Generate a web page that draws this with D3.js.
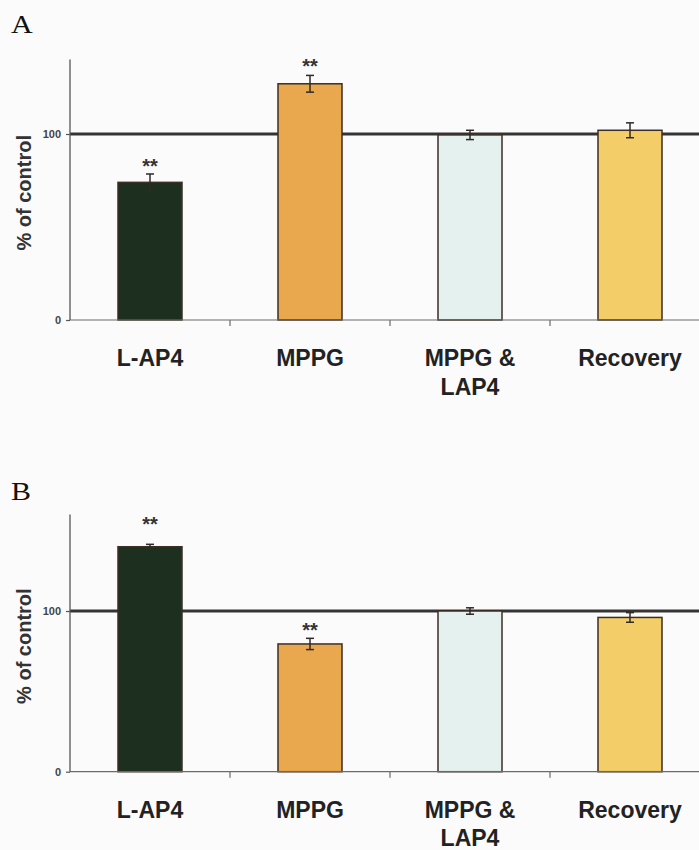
<!DOCTYPE html>
<html>
<head>
<meta charset="utf-8">
<script src="https://cdn.jsdelivr.net/npm/d3@7"></script>
<style>
  html, body { margin: 0; padding: 0; background: #fbfbfb; }
  svg { display: block; }
</style>
</head>
<body>
<svg id="chart" width="699" height="850"></svg>
<script>
// Categories shared by both panels
const categories = ["L-AP4", "MPPG", "MPPG & LAP4", "Recovery"];
const categoryLines = [["L-AP4"], ["MPPG"], ["MPPG &", "LAP4"], ["Recovery"]];
const barColors = ["#1d3020", "#eaa84e", "#e5f1ee", "#f3ce68"];

// Panel A: mean % of control and error
const valuesA = [74, 127, 99.5, 102];
const errorsA = [4.5, 4.5, 2.5, 4];
const starsA = ["**", "**", "", ""];

// Panel B: mean % of control and error
const valuesB = [140, 79.5, 100, 96];
const errorsB = [1.5, 3.5, 2, 3];
const starsB = ["**", "**", "", ""];

// Axis ticks and reference level
const yTicks = [0, 100];
const controlLevel = 100;

const svg = d3.select("#chart");

function drawPanel(opts) {
  const { letter, letterY, values, errors, stars, yMax, yBottom, yTop, starGap } = opts;
  const g = svg.append("g");

  const x = d3.scaleBand()
    .domain(categories)
    .range([70, 710])
    .paddingInner(0.6)
    .paddingOuter(0.3);
  const step = x.step();
  const y = d3.scaleLinear().domain([0, yMax]).range([yBottom, yTop]);

  // Panel letter
  svg.append("text")
    .attr("transform", `translate(11,${letterY}) scale(1.2,1)`)
    .attr("font-family", "'Liberation Serif', 'Times New Roman', serif")
    .attr("font-size", 25)
    .attr("fill", "#111")
    .text(letter);

  // Control reference line (behind bars)
  g.append("line")
    .attr("x1", 70).attr("x2", 710)
    .attr("y1", y(controlLevel)).attr("y2", y(controlLevel))
    .attr("stroke", "#343434").attr("stroke-width", 3);

  // Bars
  g.selectAll("rect.bar").data(categories).join("rect")
    .attr("class", "bar")
    .attr("x", d => x(d))
    .attr("width", x.bandwidth())
    .attr("y", (d, i) => y(values[i]))
    .attr("height", (d, i) => y(0) - y(values[i]))
    .attr("fill", (d, i) => barColors[i])
    .attr("stroke", "#3d2e24")
    .attr("stroke-width", 1.5);

  // Error bars
  const capW = 8;
  const eb = g.selectAll("g.err").data(categories).join("g").attr("class", "err");
  eb.append("line")
    .attr("x1", d => x(d) + x.bandwidth() / 2)
    .attr("x2", d => x(d) + x.bandwidth() / 2)
    .attr("y1", (d, i) => y(values[i] + errors[i]))
    .attr("y2", (d, i) => y(values[i] - errors[i]));
  eb.append("line")
    .attr("x1", d => x(d) + x.bandwidth() / 2 - capW / 2)
    .attr("x2", d => x(d) + x.bandwidth() / 2 + capW / 2)
    .attr("y1", (d, i) => y(values[i] + errors[i]))
    .attr("y2", (d, i) => y(values[i] + errors[i]));
  eb.append("line")
    .attr("x1", d => x(d) + x.bandwidth() / 2 - capW / 2)
    .attr("x2", d => x(d) + x.bandwidth() / 2 + capW / 2)
    .attr("y1", (d, i) => y(values[i] - errors[i]))
    .attr("y2", (d, i) => y(values[i] - errors[i]));
  eb.selectAll("line").attr("stroke", "#2e2a28").attr("stroke-width", 1.5);

  // Significance stars
  g.selectAll("text.star").data(categories).join("text")
    .attr("class", "star")
    .attr("x", d => x(d) + x.bandwidth() / 2)
    .attr("y", (d, i) => y(values[i] + errors[i]) - starGap[i] + 11)
    .attr("text-anchor", "middle")
    .attr("font-family", "'Liberation Sans', Arial, sans-serif")
    .attr("font-weight", "bold")
    .attr("font-size", 20)
    .attr("fill", "#333")
    .text((d, i) => stars[i]);

  // X axis line and category ticks
  g.append("line")
    .attr("x1", 70).attr("x2", 710)
    .attr("y1", y(0)).attr("y2", y(0))
    .attr("stroke", "#6a6a6a").attr("stroke-width", 1.2);
  g.selectAll("line.xtick").data(categories.slice(1)).join("line")
    .attr("class", "xtick")
    .attr("x1", d => x(d) - (step - x.bandwidth()) / 2)
    .attr("x2", d => x(d) - (step - x.bandwidth()) / 2)
    .attr("y1", y(0)).attr("y2", y(0) + 6)
    .attr("stroke", "#6a6a6a").attr("stroke-width", 1.2);

  // Y axis
  const yAxis = d3.axisLeft(y).tickValues(yTicks).tickSize(4).tickPadding(5);
  const ya = g.append("g").attr("transform", "translate(70,0)").call(yAxis);
  ya.select(".domain")
    .attr("d", `M0,${y(0)}V${y(yMax)}`)
    .attr("stroke", "#555").attr("stroke-width", 1.3);
  ya.selectAll(".tick line").attr("stroke", "#555").attr("stroke-width", 1.2);
  ya.selectAll(".tick text")
    .attr("font-family", "'Liberation Sans', Arial, sans-serif")
    .attr("font-weight", "bold")
    .attr("font-size", 11)
    .attr("fill", "#444");

  // Y axis title
  svg.append("text")
    .attr("transform", `translate(31,${(y(0) + y(yMax)) / 2 + 3}) rotate(-90)`)
    .attr("text-anchor", "middle")
    .attr("font-family", "'Liberation Sans', Arial, sans-serif")
    .attr("font-weight", "bold")
    .attr("font-size", 20)
    .attr("fill", "#333")
    .text("% of control");

  // Category labels
  const lbl = g.selectAll("text.cat").data(categories).join("text")
    .attr("class", "cat")
    .attr("text-anchor", "middle")
    .attr("font-family", "'Liberation Sans', Arial, sans-serif")
    .attr("font-weight", "bold")
    .attr("font-size", 23)
    .attr("fill", "#222");
  lbl.each(function(d, i) {
    const t = d3.select(this);
    categoryLines[i].forEach((line, k) => {
      t.append("tspan")
        .attr("x", x(d) + x.bandwidth() / 2)
        .attr("y", y(0) + 46 + k * 28.5)
        .text(line);
    });
  });
}

drawPanel({
  letter: "A", letterY: 33,
  values: valuesA, errors: errorsA, stars: starsA,
  yMax: 140, yBottom: 320, yTop: 59.6,
  starGap: [12, 13, 12, 12]
});

drawPanel({
  letter: "B", letterY: 500,
  values: valuesB, errors: errorsB, stars: starsB,
  yMax: 160, yBottom: 771.7, yTop: 514.6,
  starGap: [24, 12, 12, 12]
});
</script>
</body>
</html>
